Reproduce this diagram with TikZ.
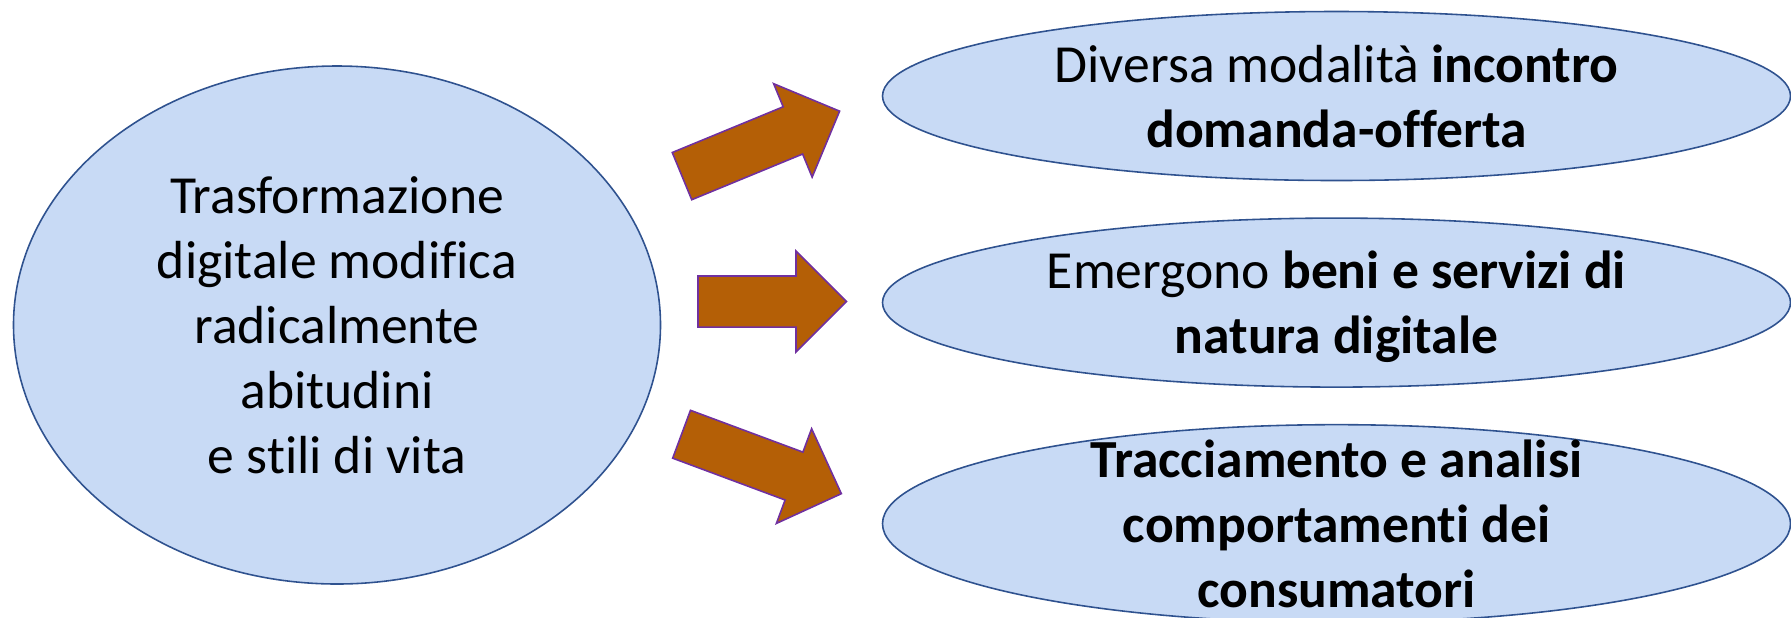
\documentclass[tikz,border=0pt]{standalone}
\usepackage{fontspec}
\setmainfont{Carlito}[Ligatures=NoCommon]
\usepackage{tikz}
\usetikzlibrary{shapes,arrows,positioning}

\definecolor{bubblefill}{RGB}{200,218,245}
\definecolor{bubbleline}{RGB}{47,82,143}
\definecolor{arrowfill}{RGB}{180,95,6}
\definecolor{arrowline}{RGB}{112,48,160}

\begin{document}
\begin{tikzpicture}[
    node distance=0.72cm,
    bubble/.style={ellipse, draw=bubbleline, fill=bubblefill, line width=0.9pt, minimum width=18.16cm, minimum height=3.38cm, inner sep=0pt},
    bubbletext/.style={align=center, font=\fontsize{30.5}{37}\selectfont},
    bigarrow/.style={single arrow, draw=arrowline, fill=arrowfill, line width=0.9pt, minimum height=3.41cm, inner xsep=0pt, inner ysep=0.495cm, single arrow head extend=0.5cm, single arrow head indent=0pt}
]
\useasboundingbox (0,0) rectangle (35.82,-12.34);

% Cause on the left
\node[bubble, minimum width=12.94cm, minimum height=10.36cm] (src) at (6.74,-6.50) {};
\node[bubbletext] (srctxt) at (src.center) {Trasformazione\\digitale modifica\\radicalmente\\abitudini\\e stili di vita};

% Effects on the right, top to bottom
\node[bubble] (e1) at (26.73,-1.92) {};
\node[bubble, below=of e1] (e2) {};
\node[bubble, below=of e2, minimum height=3.96cm] (e3) {};

\node[bubbletext] (e1txt) at (e1.center) {Diversa modalità \textbf{incontro}\\\textbf{domanda-offerta}};
\node[bubbletext] (e2txt) at ([yshift=-0.08cm]e2.center) {Emergono \textbf{beni e servizi di}\\\textbf{natura digitale}};
\node[bubbletext, font=\fontsize{30.5}{37}\selectfont\bfseries] (e3txt) at (e3.center) {Tracciamento e analisi\\comportamenti dei\\consumatori};

% Block arrows from cause to effects
\node[bigarrow, rotate=22.4] (a1) at (14.98,-2.97) {};
\node[bigarrow, minimum height=2.97cm] (a2) at (15.19,-6.03) {};
\node[bigarrow, rotate=-20.4] (a3) at (14.99,-9.19) {};

\end{tikzpicture}
\end{document}
